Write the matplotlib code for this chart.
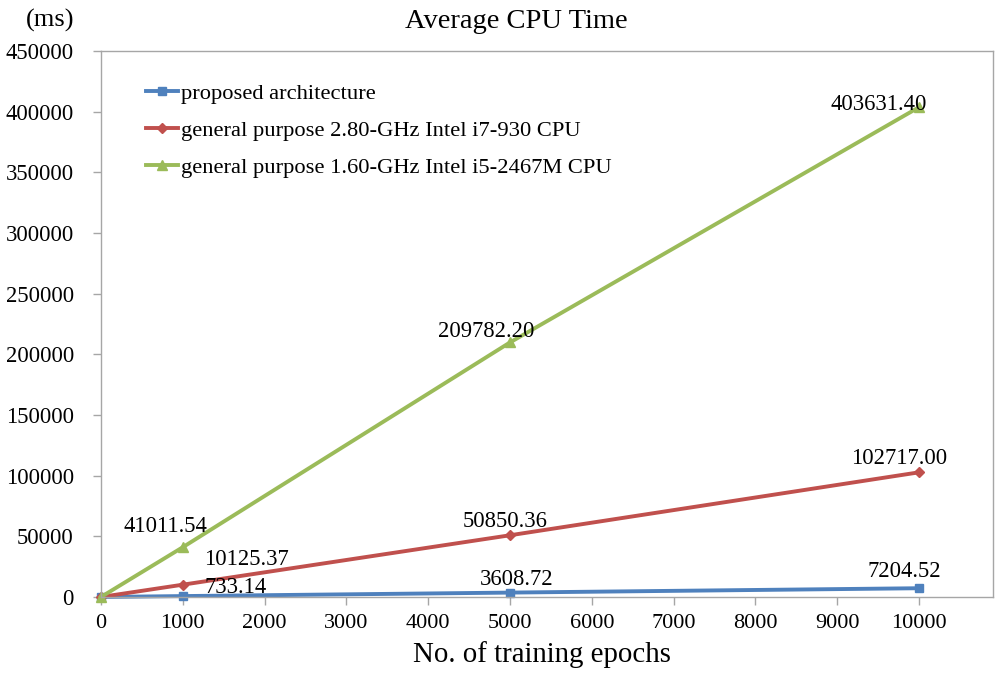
import matplotlib
matplotlib.use("Agg")
import matplotlib.pyplot as plt

plt.rcParams['font.family'] = ['Liberation Serif', 'DejaVu Serif']

epochs = [0, 1000, 5000, 10000]
proposed = [0, 733.14, 3608.72, 7204.52]
i7 = [0, 10125.37, 50850.36, 102717.00]
i5 = [0, 41011.54, 209782.20, 403631.40]
labels = ["proposed architecture",
          "general purpose 2.80-GHz Intel i7-930 CPU",
          "general purpose 1.60-GHz Intel i5-2467M CPU"]
proposed_txt = ["733.14", "3608.72", "7204.52"]
i7_txt = ["10125.37", "50850.36", "102717.00"]
i5_txt = ["41011.54", "209782.20", "403631.40"]
xticks = list(range(0, 10001, 1000))
yticks = list(range(0, 450001, 50000))

blue, red, green = "#4F81BD", "#C0504D", "#9BBB59"
gray = "#A6A6A6"

fig = plt.figure(figsize=(10, 6.75), dpi=100)
ax = fig.add_axes([0.101, 0.1156, 0.892, 0.8089])

ax.plot(epochs, proposed, color=blue, lw=2.8, marker='s', ms=5.5, label=labels[0])
ax.plot(epochs, i7, color=red, lw=2.8, marker='D', ms=5.5, label=labels[1])
ax.plot(epochs, i5, color=green, lw=2.8, marker='^', ms=7.5, label=labels[2])

ax.set_xlim(0, 10905)
ax.set_ylim(0, 450000)
ax.set_xticks(xticks)
ax.set_yticks(yticks)
ax.set_xticklabels([str(v) for v in xticks], fontsize=16)
ax.set_yticklabels([str(v) for v in yticks], fontsize=16.3)
ax.tick_params(axis='both', direction='out', length=6, color=gray, width=1)
ax.tick_params(axis='x', pad=6)
ax.tick_params(axis='y', pad=13.5)
for s in ax.spines.values():
    s.set_color(gray)
    s.set_linewidth(1)
for line in ax.lines:
    line.set_clip_on(False)

# annotations: offsets in pixels (dx right, dy up) to text baseline centre
def ann(x, y, t, dx, dy):
    ax.annotate(t, (x, y), xytext=(dx, dy), textcoords='offset pixels',
                fontsize=16.3, ha='center', va='baseline')

ann(epochs[1], proposed[1], proposed_txt[0], 52.5, 3)
ann(epochs[2], proposed[2], proposed_txt[1], 6.7, 7.6)
ann(epochs[3], proposed[3], proposed_txt[2], -14.5, 11.3)
ann(epochs[1], i7[1], i7_txt[0], 64, 19.7)
ann(epochs[2], i7[2], i7_txt[1], -5.3, 8.6)
ann(epochs[3], i7[3], i7_txt[2], -19.7, 8.4)
ann(epochs[1], i5[1], i5_txt[0], -17, 15.2)
ann(epochs[2], i5[2], i5_txt[1], -24, 5.2)
ann(epochs[3], i5[3], i5_txt[2], -40.3, -2.7)

leg = ax.legend(loc='upper left', bbox_to_anchor=(0.04, 0.957), frameon=False,
                fontsize=16.2, handlelength=1.45, handletextpad=0.12,
                labelspacing=0.72, borderaxespad=0)

fig.text(0.516, 1 - 21/675, "Average CPU Time", fontsize=20.5, ha='center', va='center')
fig.text(0.0505, 1 - 20/675, "(ms)", fontsize=19, ha='center', va='center')
fig.text(0.542, 1 - 655/675, "No. of training epochs", fontsize=20.8, ha='center', va='center')

fig.savefig("out.png", dpi=100)
